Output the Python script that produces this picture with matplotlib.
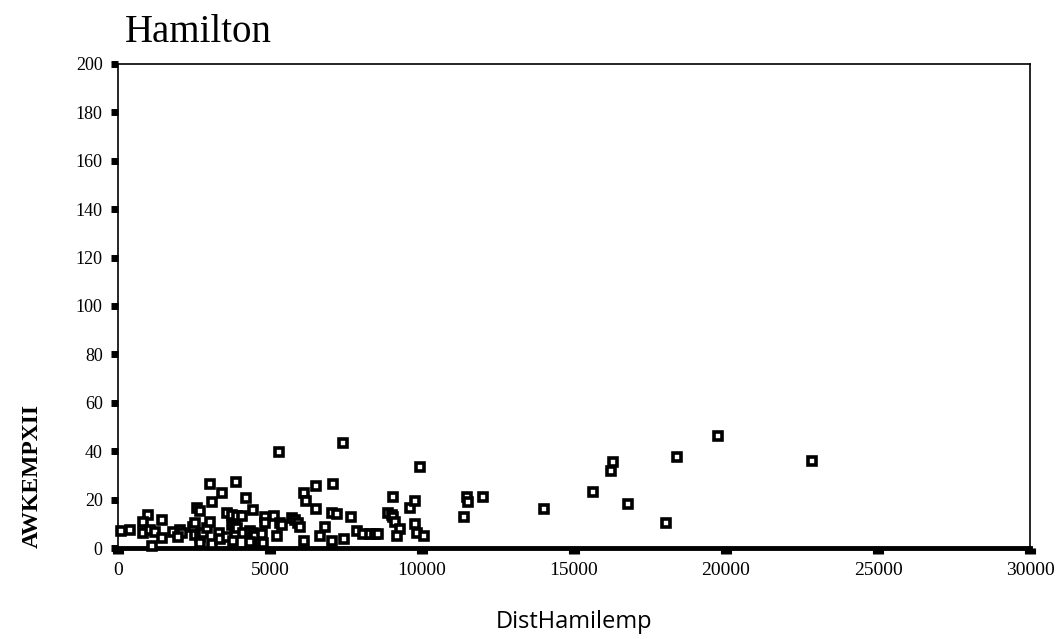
import numpy as np
import matplotlib.pyplot as plt

# значения
dist = [100, 400, 980, 810, 830, 1050, 1220, 1110, 1440, 1440,
        1810, 2040, 2090, 1980, 2470, 2530, 2590, 2700, 2530, 2700,
        2800, 2920, 2700, 3030, 3080, 3030, 3080, 3410, 3330, 3360,
        3570, 3740, 3900, 4070, 3740, 3850, 3900, 3570, 3790, 3870,
        4200, 4450, 4120, 4340, 4450, 4510, 4730, 4340, 4670, 4780,
        4840, 4840, 5130, 5330, 5380, 5220, 5310, 5710, 5820, 5930,
        5990, 6120, 6200, 6120, 6510, 6510, 6640, 6820, 7080, 7050,
        7210, 7050, 7390, 7440, 7680, 7850, 8070, 8290, 8450, 8560,
        8890, 9000, 9060, 9110, 9060, 9280, 9190, 9600, 9770, 9770,
        9850, 10070, 9930, 11470, 11520, 12020, 11380, 14010, 15630, 16290,
        16200, 16760, 18380, 18010, 19750, 22820]
awkempx = [7, 7.5, 13.6, 10.7, 6, 7.4, 6.6, 1, 11.6, 4,
           6.6, 7.4, 6, 4.5, 8.7, 10.3, 16.5, 15.3, 5.4, 4.5,
           6, 8.3, 2, 26.4, 19, 10.9, 1.7, 22.7, 6.3, 3.7,
           14.6, 13.6, 13.2, 13.2, 9.5, 8.8, 8.1, 4.7, 3, 27.4,
           20.8, 15.7, 6.1, 7.2, 6.1, 5.1, 5.8, 2.6, 1.9, 2.2,
           12.9, 10.2, 13.2, 10.2, 9.5, 5, 39.5, 12.5, 11.6, 10.2,
           8.8, 22.6, 19.6, 2.8, 25.6, 16, 5, 8.8, 26.3, 14.6,
           13.9, 3, 43.3, 3.6, 12.9, 7.2, 5.8, 5.8, 5.8, 5.8,
           14.3, 13.6, 12.9, 10.9, 21.2, 7.9, 5, 16.7, 19.6, 9.9,
           6.3, 5, 33.6, 21.2, 18.9, 21.2, 12.9, 16, 23.3, 35.7,
           31.9, 18, 37.6, 10.5, 46.4, 36]

x_ticks = [0, 5000, 10000, 15000, 20000, 25000, 30000]
y_ticks = list(range(0, 201, 20))

plt.rcParams['font.family'] = ['Liberation Serif', 'DejaVu Serif']

fig = plt.figure(figsize=(10.63, 6.39), dpi=100)
ax = fig.add_axes([0.111, 0.1424, 0.858, 0.7576])

ax.plot(dist, awkempx, linestyle='none', marker='s', markersize=5.5,
        markerfacecolor='white', markeredgecolor='black', markeredgewidth=2.6,
        clip_on=False, zorder=3)

ax.set_xlim(0, 30000)
ax.set_ylim(0, 200)
ax.set_xticks(x_ticks)
ax.set_yticks(y_ticks)

for side in ['top', 'right', 'left']:
    ax.spines[side].set_linewidth(1.2)
ax.spines['bottom'].set_linewidth(3.5)

ax.tick_params(axis='y', direction='out', length=5, width=5, pad=6,
               labelsize=13)
ax.tick_params(axis='x', direction='out', length=4, width=8, pad=6,
               labelsize=14)

ax.set_xlabel('DistHamilemp', fontsize=17, family=['Open Sans', 'DejaVu Sans'])
ax.xaxis.set_label_coords(0.5, -0.128)
ax.set_ylabel('AWKEMPXII', fontsize=17, fontweight='bold')
ax.yaxis.set_label_coords(-0.082, 0.148)

fig.text(125 / 1063, 1 - 42 / 639, 'Hamilton', fontsize=28, va='baseline', ha='left')

fig.savefig('out.png', dpi=100)
